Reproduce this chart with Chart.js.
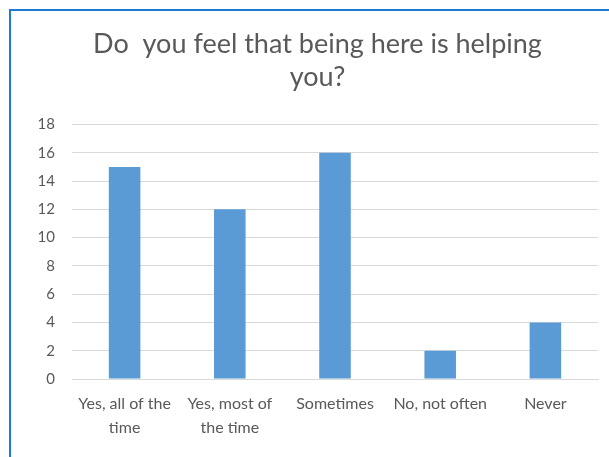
<!DOCTYPE html>
<html>
<head>
<meta charset="utf-8">
<script src="https://cdn.jsdelivr.net/npm/chart.js@4/dist/chart.umd.min.js"></script>
<style>
  html, body { margin: 0; padding: 0; background: #fff; }
  #frame {
    position: absolute;
    left: 9px; top: 9px;
    width: 600px; height: 448px;
    border-top: 2px solid #1f7ad1;
    border-left: 2px solid #1f7ad1;
    box-sizing: border-box;
  }
  #wrap { position: absolute; left: 0; top: 0; width: 598px; height: 446px; }
</style>
</head>
<body>
<div id="frame"><div id="wrap"><canvas id="chart"></canvas></div></div>
<script>
// Survey answers
const categories = [
  ['Yes, all of the', 'time'],
  ['Yes, most of', 'the time'],
  'Sometimes',
  'No, not often',
  'Never'
];
const counts = [15, 12, 16, 2, 4];
const titleLines = ['Do  you feel that being here is helping', 'you?'];

const textGrey = '#595959';

new Chart(document.getElementById('chart'), {
  type: 'bar',
  data: {
    labels: categories,
    datasets: [{
      data: counts,
      backgroundColor: '#5b9bd5',
      borderWidth: 0,
      categoryPercentage: 1,
      barPercentage: 0.3
    }]
  },
  options: {
    responsive: true,
    maintainAspectRatio: false,
    animation: false,
    layout: { padding: { left: 26, right: 11, top: 8, bottom: 12 } },
    plugins: {
      legend: { display: false },
      tooltip: { enabled: false },
      title: {
        display: true,
        text: titleLines,
        color: textGrey,
        font: { family: 'Lato', size: 27, weight: 'normal', lineHeight: 1.25 },
        padding: { top: 8, bottom: 30 }
      }
    },
    scales: {
      x: {
        grid: { display: false },
        border: { color: '#d9d9d9', width: 1 },
        ticks: {
          color: textGrey,
          font: { family: 'Lato', size: 16, lineHeight: 1.5 },
          maxRotation: 0,
          autoSkip: false,
          padding: 5
        }
      },
      y: {
        min: 0,
        max: 18,
        // fixed axis width keeps the plot edge where it belongs
        afterFit(scale) { scale.width = 35; },
        ticks: {
          stepSize: 2,
          color: textGrey,
          font: { family: 'Lato', size: 15 },
          padding: 17
        },
        grid: { color: '#d9d9d9', drawTicks: false },
        border: { display: false }
      }
    }
  }
});
</script>
</body>
</html>
